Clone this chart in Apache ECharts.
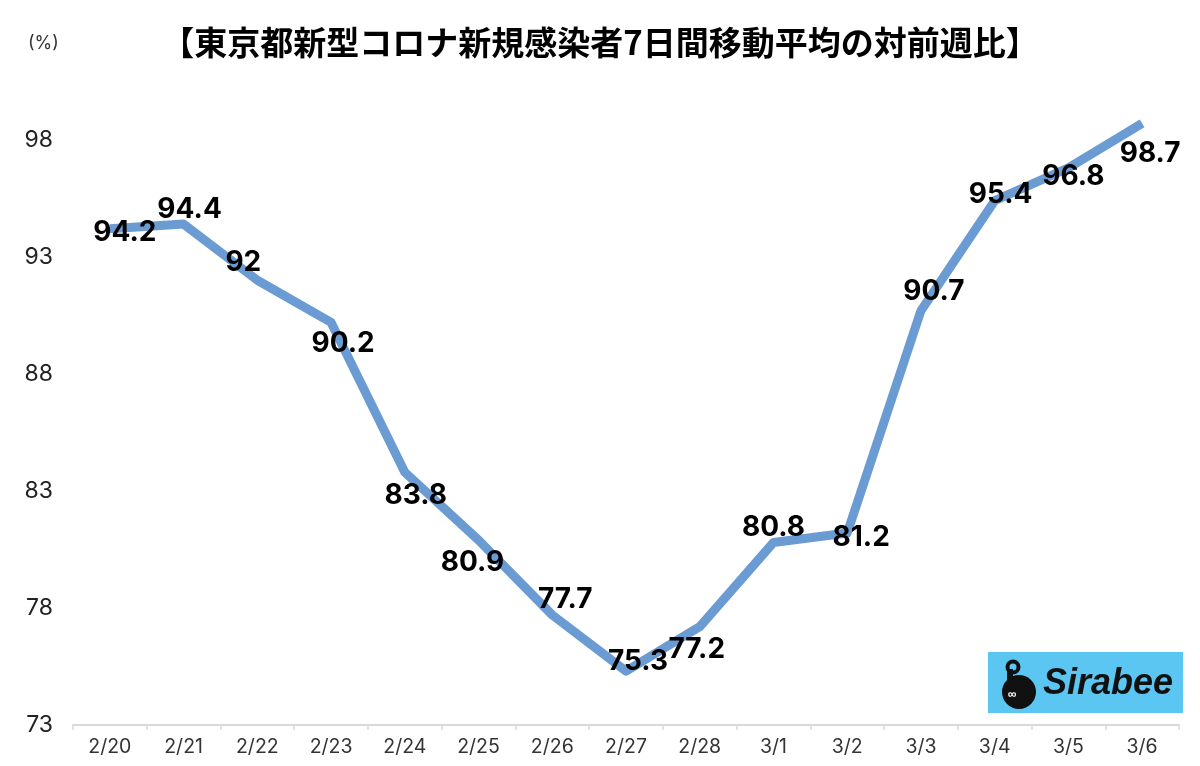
<!DOCTYPE html>
<html><head><meta charset="utf-8">
<script src="https://cdn.jsdelivr.net/npm/echarts@6/dist/echarts.min.js"></script>
<style>html,body{margin:0;padding:0;background:#fff}#c{width:1200px;height:766px}</style>
</head><body><div id="c"></div>
<script>
const categories = ['2/20','2/21','2/22','2/23','2/24','2/25','2/26','2/27','2/28','3/1','3/2','3/3','3/4','3/5','3/6'];
const values = [94.2, 94.4, 92, 90.2, 83.8, 80.9, 77.7, 75.3, 77.2, 80.8, 81.2, 90.7, 95.4, 96.8, 98.7];
const labelOffsets = [[15,4],[6,-15],[-14,-18],[12,21],[11,23],[-6,22],[13,-15],[12,-10],[-3,23],[0,-15],[14,5],[13,-19],[6,-6],[5,9],[8,30]];
const yMin = 73, yMax = 100, yStep = 5;
const titleText = '【東京都新型コロナ新規感染者7日間移動平均の対前週比】';

const chart = echarts.init(document.getElementById('c'));
chart.setOption({
  animation: false,
  backgroundColor: '#fff',
  title: {
    text: titleText, left: 'center', top: 21,
    textStyle: {fontFamily: 'Noto Sans CJK JP', fontWeight: 'bold', fontSize: 33, color: '#000'}
  },
  grid: {left: 73, right: 21, top: 93, bottom: 41},
  xAxis: {
    type: 'category', data: categories, boundaryGap: true,
    axisLine: {lineStyle: {color: '#d9d9d9', width: 2}},
    axisTick: {show: true, length: 5, lineStyle: {color: '#d9d9d9', width: 1.5}},
    axisLabel: {color: '#333', fontSize: 19.5, margin: 12, fontFamily: 'Inter'}
  },
  yAxis: {
    type: 'value', min: yMin, max: yMax, interval: yStep,
    axisLine: {show: false}, axisTick: {show: false}, splitLine: {show: false},
    axisLabel: {color: '#222', fontSize: 23, margin: 20, showMaxLabel: false, fontFamily: 'Inter',
      formatter: v => (v - yMin) % yStep === 0 ? String(v) : ''}
  },
  graphic: [
    {type: 'text', left: 28, top: 35, style: {text: '(%)', fontSize: 18, fill: '#333', fontFamily: 'Inter'}},
    {type: 'group', left: 988, top: 652, children: [
      {type: 'rect', shape: {x: 0, y: 0, width: 195, height: 61}, style: {fill: '#5cc6f2'}},
      {type: 'circle', shape: {cx: 31, cy: 40, r: 17}, style: {fill: '#111'}},
      {type: 'circle', shape: {cx: 25, cy: 15, r: 5.5}, style: {fill: 'none', stroke: '#111', lineWidth: 4}},
      {type: 'rect', shape: {x: 19, y: 17, width: 6, height: 12}, style: {fill: '#111'}},
      {type: 'text', style: {x: 20, y: 37, text: '∞', fontSize: 12, fill: '#fff', fontWeight: 'bold'}},
      {type: 'text', style: {x: 55, y: 32, text: 'Sirabee', fontSize: 36, fontWeight: 'bold', fontStyle: 'italic', fill: '#111', fontFamily: 'Liberation Sans', verticalAlign: 'middle'}}
    ]}
  ],
  series: [{
    type: 'line',
    data: values.map((v, i) => ({
      value: v,
      label: {offset: labelOffsets[i]}
    })),
    showSymbol: true, symbol: 'circle', symbolSize: 2,
    itemStyle: {color: 'rgba(107,155,211,0)', borderWidth: 0},
    lineStyle: {color: '#6b9bd3', width: 9, join: 'round'},
    label: {
      show: true, position: 'inside', color: '#000', fontSize: 28, fontWeight: 'bold',
      fontFamily: 'Inter', opacity: 1
    },
    z: 2
  }]
});
</script></body></html>
